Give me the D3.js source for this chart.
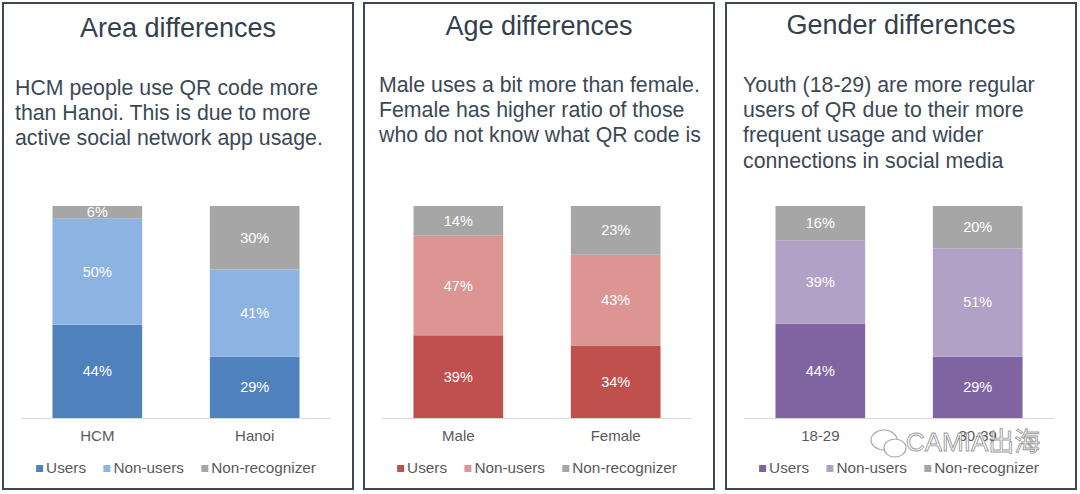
<!DOCTYPE html>
<html>
<head>
<meta charset="utf-8">
<script src="https://cdn.jsdelivr.net/npm/d3@7"></script>
<style>
  body { margin: 0; background: #fff; }
  svg { display: block; font-family: "Liberation Sans", Arial, sans-serif; }
</style>
</head>
<body>
<div id="chart"></div>
<script>
// Data
const seriesNames = ["Users", "Non-users", "Non-recognizer"];

const areaCats = ["HCM", "Hanoi"];
const areaUsers = [44, 29];
const areaNonUsers = [50, 41];
const areaNonRec = [6, 30];

const ageCats = ["Male", "Female"];
const ageUsers = [39, 34];
const ageNonUsers = [47, 43];
const ageNonRec = [14, 23];

const genderCats = ["18-29", "30-39"];
const genderUsers = [44, 29];
const genderNonUsers = [39, 51];
const genderNonRec = [16, 20];

const titles = ["Area differences", "Age differences", "Gender differences"];
const notes = [
  ["HCM people use QR code more", "than Hanoi. This is due to more", "active social network app usage."],
  ["Male uses a bit more than female.", "Female has higher ratio of those", "who do not know what QR code is"],
  ["Youth (18-29) are more regular", "users of QR due to their more", "frequent usage and wider", "connections in social media"]
];

const palettes = [
  ["#4f81bd", "#8db3e2", "#a6a6a6"],
  ["#c0504d", "#dd9593", "#a6a6a6"],
  ["#8064a2", "#b2a1c7", "#a6a6a6"]
];

const width = 1080;
const height = 494;

const svg = d3.select("#chart")
  .append("svg")
  .attr("width", width)
  .attr("height", height);

const panels = [
  { x: 3, cats: areaCats, vals: [areaUsers, areaNonUsers, areaNonRec], noteX: 12, noteY: 95, titleY: 34 },
  { x: 364, cats: ageCats, vals: [ageUsers, ageNonUsers, ageNonRec], noteX: 15, noteY: 92, titleY: 32 },
  { x: 726, cats: genderCats, vals: [genderUsers, genderNonUsers, genderNonRec], noteX: 17, noteY: 92, titleY: 31 }
];

const panelW = 350;
const panelH = 486;
const y = d3.scaleLinear().domain([0, 1]).range([418, 206]);

panels.forEach((p, i) => {
  const g = svg.append("g").attr("transform", `translate(${p.x},3)`);
  const colors = palettes[i];

  // frame
  g.append("rect")
    .attr("x", 0).attr("y", 0)
    .attr("width", panelW).attr("height", panelH)
    .attr("fill", "#fff")
    .attr("stroke", "#3f4852")
    .attr("stroke-width", 2);

  // title
  g.append("text")
    .attr("x", panelW / 2)
    .attr("y", p.titleY)
    .attr("text-anchor", "middle")
    .attr("font-size", 27)
    .attr("fill", "#34404d")
    .text(titles[i]);

  // note
  g.append("text")
    .attr("font-size", 21.3)
    .attr("fill", "#3c4856")
    .selectAll("tspan")
    .data(notes[i])
    .enter()
    .append("tspan")
    .attr("x", p.noteX)
    .attr("y", (d, k) => p.noteY - 3 + k * 25.2)
    .text(d => d);

  // stacked bars
  const rows = p.cats.map((c, k) => {
    const r = { cat: c };
    seriesNames.forEach((s, j) => { r[s] = p.vals[j][k]; });
    return r;
  });

  const stack = d3.stack()
    .keys(seriesNames)
    .offset(d3.stackOffsetExpand);
  const layers = stack(rows);

  const x = d3.scaleBand()
    .domain(p.cats)
    .range([18, 328])
    .paddingInner(0.43)
    .paddingOuter(0.2);

  const pg = svg.append("g").attr("transform", `translate(${p.x},0)`);

  const layer = pg.selectAll("g.layer")
    .data(layers)
    .enter()
    .append("g")
    .attr("class", "layer")
    .attr("fill", (d, j) => colors[j]);

  layer.selectAll("rect")
    .data(d => d.map(v => ({ v, key: d.key })))
    .enter()
    .append("rect")
    .attr("x", d => x(d.v.data.cat))
    .attr("width", x.bandwidth())
    .attr("y", d => y(d.v[1]))
    .attr("height", d => y(d.v[0]) - y(d.v[1]));

  layer.selectAll("text")
    .data(d => d.map(v => ({ v, key: d.key })))
    .enter()
    .append("text")
    .attr("x", d => x(d.v.data.cat) + x.bandwidth() / 2)
    .attr("y", d => (y(d.v[0]) + y(d.v[1])) / 2 + 5)
    .attr("text-anchor", "middle")
    .attr("font-size", 14.5)
    .attr("fill", "#fff")
    .text(d => d.v.data[d.key] + "%");

  // baseline axis
  const axis = pg.append("g")
    .attr("transform", "translate(0,418)")
    .call(d3.axisBottom(x).tickSize(0).tickPadding(12));
  axis.select(".domain")
    .attr("stroke", "#d9d9d9")
    .attr("stroke-width", 1)
    .attr("d", "M18,0.5H328");
  axis.selectAll(".tick text")
    .attr("font-family", "Liberation Sans, Arial, sans-serif")
    .attr("font-size", 15)
    .attr("fill", "#595959");

  // legend
  const leg = pg.append("g").attr("transform", "translate(0,473)");
  const items = leg.selectAll("g")
    .data(seriesNames)
    .enter()
    .append("g");
  items.append("rect")
    .attr("width", 7).attr("height", 7)
    .attr("y", -8)
    .attr("fill", (d, j) => colors[j]);
  items.append("text")
    .attr("x", 10)
    .attr("font-size", 15.3)
    .attr("fill", "#595959")
    .text(d => d);
  let cx = 0;
  const offs = [];
  items.each(function() {
    offs.push(cx);
    cx += this.getBBox().width + 17;
  });
  const total = cx - 17;
  const start = 18 + (310 - total) / 2;
  items.attr("transform", (d, j) => `translate(${start + offs[j]},0)`);
});

// watermark
const wm = svg.append("g").attr("opacity", 0.85);
wm.append("ellipse")
  .attr("cx", 884).attr("cy", 440).attr("rx", 13).attr("ry", 10)
  .attr("fill", "#fff").attr("stroke", "#9a9a9a").attr("stroke-width", 1.2);
wm.append("ellipse")
  .attr("cx", 895).attr("cy", 448).attr("rx", 11).attr("ry", 9)
  .attr("fill", "#fff").attr("stroke", "#9a9a9a").attr("stroke-width", 1.2);
wm.append("text")
  .attr("x", 906)
  .attr("y", 451)
  .attr("font-size", 26)
  .attr("font-family", "Liberation Sans, 'Noto Sans CJK SC', sans-serif")
  .attr("fill", "#fff")
  .attr("stroke", "#8a8a8a")
  .attr("stroke-width", 0.9)
  .text("CAMIA出海");
</script>
</body>
</html>
